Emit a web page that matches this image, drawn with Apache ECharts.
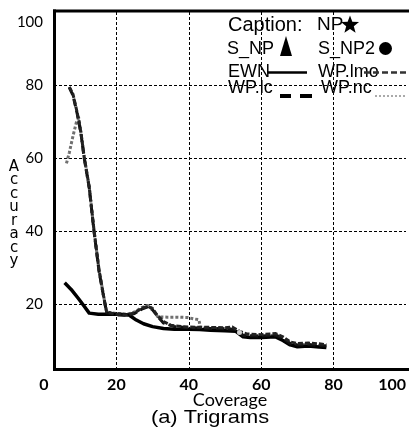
<!DOCTYPE html>
<html><head><meta charset="utf-8">
<script src="https://cdn.jsdelivr.net/npm/echarts@6/dist/echarts.min.js"></script>
<style>html,body{margin:0;padding:0;background:#fff}#c{width:409px;height:432px}</style>
</head><body><div id="c"></div>
<script>
// ---- data ----
var xTicks = [0, 20, 40, 60, 80, 100];
var yTicks = [0, 20, 40, 60, 80, 100];

var ewnX = [5.7, 7.5, 9.5, 11, 12.5, 15, 18, 21, 23.5, 25.5, 27.5, 30, 33, 36, 40, 43, 46, 50, 53, 55, 57, 60, 64, 66, 68, 70, 73, 76, 78];
var ewnY = [25.8, 24, 21.5, 19.5, 17.5, 17.2, 17.2, 17.2, 17, 15.6, 14.6, 13.8, 13.3, 13.1, 13.1, 13.0, 12.8, 12.7, 12.5, 11.0, 10.8, 10.8, 11.0, 10.0, 8.8, 8.3, 8.5, 8.2, 8.1];

var lmoX = [7, 8, 9.2, 10.2, 11.1, 12.5, 13.8, 15.2, 16.5, 17.3, 20, 23, 25, 27, 28.7, 30, 31.4, 33, 35, 38, 43, 46, 50, 52, 54, 56, 60, 64, 66, 68, 70, 73, 76, 78];
var lmoY = [79.5, 77.5, 72.3, 67, 60.3, 52, 40.3, 29.3, 22, 17.8, 17.2, 17.0, 17.6, 18.8, 19.4, 18.6, 16.8, 15.2, 14.2, 13.8, 13.6, 13.6, 13.5, 13.7, 12.5, 11.8, 11.6, 11.9, 11.0, 9.6, 9.2, 9.3, 9.1, 8.8];

var lcX = [7, 8, 9.2, 10.2, 11.1, 12.5, 13.8, 15.2, 16.5, 17.3, 20, 23, 25, 27, 28.7, 30, 31.4, 33, 36, 40, 43, 46, 50, 53, 55, 60, 64, 66, 68, 70, 73, 76, 78];
var lcY = [79.3, 77.2, 72.0, 66.8, 60.0, 51.8, 40.0, 29.0, 21.8, 17.6, 17.0, 16.9, 17.4, 18.6, 19.2, 18.4, 16.6, 14.8, 13.8, 13.5, 13.4, 13.3, 13.2, 13.0, 11.4, 11.2, 11.5, 10.6, 9.2, 8.8, 8.9, 8.6, 8.5];

var ncX = [6.2, 7, 8, 8.9, 9.6, 10.2, 11.1, 12.5, 13.8, 15.2, 16.5, 17.3, 20, 23, 25, 27, 28.7, 30, 31.4, 34, 37, 39.6, 41.5, 42.8, 43.2, 46, 50, 53, 55, 60, 64, 66, 68, 70, 73, 76, 78];
var ncY = [58.5, 61.5, 66, 69.6, 71, 67, 60.3, 52, 40.3, 29.3, 22, 17.8, 17.4, 17.2, 17.8, 19, 19.6, 18.8, 16.5, 16.4, 16.4, 16.3, 15.9, 15.7, 13.4, 13.3, 13.2, 13.1, 11.4, 11.2, 11.5, 10.5, 9.2, 8.8, 8.9, 8.6, 8.5];

var holeX = [54];
var holeY = [12.2];

function pairs(xs, ys) { return xs.map(function (x, i) { return [x, ys[i]]; }); }

var chart = echarts.init(document.getElementById('c'), null, { renderer: 'canvas' });

function lineSeries(name, xs, ys, color, dash, z, w) {
  return {
    name: name, type: 'line', data: pairs(xs, ys), showSymbol: false, symbol: 'none',
    smooth: false, z: z,
    lineStyle: { color: color, width: w || 3, type: dash, cap: 'butt', join: 'round' }
  };
}

var legendFont = '18px "Liberation Sans", Arial, sans-serif';
function txt(t, x, y, font) {
  return { type: 'text', z: 100, style: { text: t, x: x, y: y, font: font || legendFont, fill: '#000', align: 'left', verticalAlign: 'middle' } };
}
function seg(x1, y1, x2, y2, w, dash, color) {
  return { type: 'line', z: 100, shape: { x1: x1, y1: y1, x2: x2, y2: y2 }, style: { stroke: color || '#000', lineWidth: w, lineDash: dash || null } };
}
function starPts(cx, cy, R, r) {
  var p = [];
  for (var i = 0; i < 10; i++) {
    var a = -Math.PI / 2 + i * Math.PI / 5;
    var rr = i % 2 === 0 ? R : r;
    p.push([cx + rr * Math.cos(a), cy + rr * Math.sin(a)]);
  }
  return p;
}

var option = {
  animation: false,
  backgroundColor: '#fff',
  grid: { left: 44, top: 12, width: 369, height: 365, containLabel: false },
  xAxis: {
    type: 'value', min: xTicks[0], max: xTicks[xTicks.length - 1], interval: 20,
    axisLine: { show: false }, axisTick: { show: false },
    axisLabel: { fontFamily: 'Lato', fontWeight: 'bold', fontSize: 16, color: '#000', margin: 0, alignMaxLabel: 'right' },
    splitLine: { show: true, showMinLine: false, showMaxLine: false, lineStyle: { color: '#000', width: 1, type: [3, 2] } }
  },
  yAxis: {
    type: 'value', min: yTicks[0], max: yTicks[yTicks.length - 1], interval: 20,
    axisLine: { show: false }, axisTick: { show: false },
    axisLabel: {
      fontFamily: 'Lato', fontSize: 15, color: '#000', margin: 1,
      formatter: function (v) { if (v === 0) return ''; if (v === 100) return '{t|100}'; return String(v); },
      rich: { t: { fontFamily: 'Lato', fontSize: 15, color: '#000', padding: [20, 0, 0, 0] } }
    },
    splitLine: { show: true, showMinLine: false, showMaxLine: false, lineStyle: { color: '#000', width: 1, type: [3, 2] } }
  },
  series: [
    lineSeries('WP.nc', ncX, ncY, '#707070', [3, 2], 2),
    lineSeries('EWN', ewnX, ewnY, '#000', 'solid', 3, 3.5),
    lineSeries('WP.lc', lcX, lcY, '#111', [8, 4], 4),
    lineSeries('WP.lmo', lmoX, lmoY, '#222', [5, 2], 5),
    { name: 'hole', type: 'scatter', data: pairs(holeX, holeY), symbol: 'circle', symbolSize: 5, z: 10,
      itemStyle: { color: '#fff' } }
  ],
  graphic: [
    // cover strips
    { type: 'rect', z: 50, shape: { x: 44, y: 0, width: 9, height: 371 }, style: { fill: '#fff' } },
    { type: 'rect', z: 50, shape: { x: 44, y: 371, width: 370, height: 5.5 }, style: { fill: '#fff' } },
    // frame lines
    seg(54.5, 9.5, 54.5, 371, 3),
    seg(53, 11, 409, 11, 3),
    seg(53, 369.5, 409, 369.5, 3),
    // legend
    txt('Caption:', 228, 25, '20px "Liberation Sans", Arial, sans-serif'),
    txt('NP', 317, 25, '19px "Liberation Sans", Arial, sans-serif'),
    { type: 'polygon', z: 100, shape: { points: starPts(350, 25, 9.5, 4) }, style: { fill: '#000' } },
    txt('S_NP', 227, 49),
    { type: 'polygon', z: 100, shape: { points: [[280, 56], [286, 36], [292, 56]] }, style: { fill: '#000' } },
    txt('S_NP2', 318, 49),
    { type: 'circle', z: 100, shape: { cx: 385.5, cy: 48.5, r: 6.5 }, style: { fill: '#000' } },
    txt('EWN', 228, 72),
    seg(268, 72.5, 307, 72.5, 2.5),
    txt('WP.lmo', 318, 72),
    seg(364, 72.5, 409, 72.5, 2.5, [6, 3], '#333'),
    txt('WP.lc', 228, 88),
    seg(280, 96, 291, 96, 4),
    seg(300, 96, 312, 96, 4),
    txt('WP.nc', 321, 88),
    seg(375, 96, 405, 96, 2, [2, 2], '#aaa'),
    // axis titles
    { type: 'text', z: 100, style: { text: 'A\nc\nc\nu\nr\na\nc\ny', x: 14, y: 160, font: '15px "DejaVu Sans", sans-serif', fill: '#000', align: 'center', verticalAlign: 'top', lineHeight: 13.5 } },
    { type: 'text', z: 100, style: { text: 'Coverage', x: 230, y: 400, font: '18px Lato, sans-serif', fill: '#000', align: 'center', verticalAlign: 'middle' } },
    { type: 'text', z: 100, x: 210, y: 418, scaleX: 1.15, style: { text: '(a) Trigrams', x: 0, y: 0, font: '19px "Liberation Sans", Arial, sans-serif', fill: '#000', align: 'center', verticalAlign: 'middle' } }
  ]
};
chart.setOption(option);
</script>
</body></html>
